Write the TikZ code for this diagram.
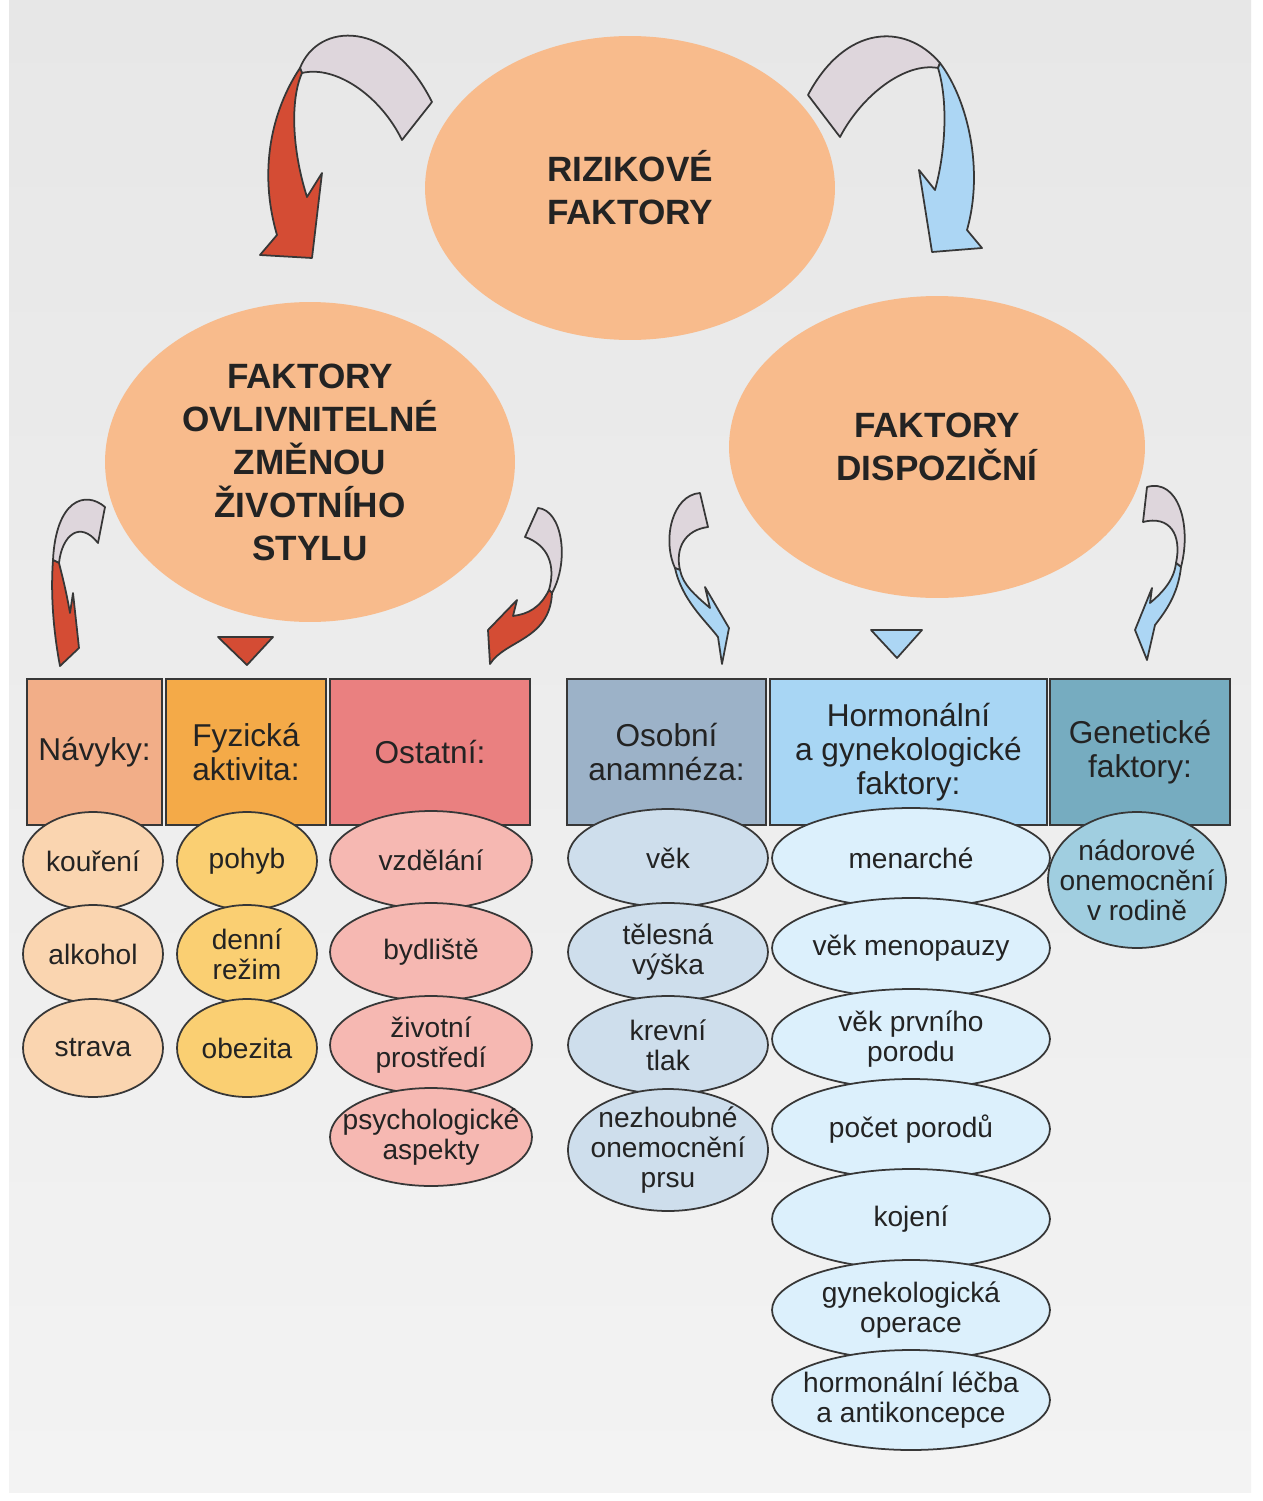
\documentclass[tikz,border=0pt]{standalone}
\usepackage{fontspec}
\setmainfont{Liberation Sans}
\usepackage{tikz}
\usetikzlibrary{shapes.geometric, positioning}
\definecolor{papertop}{RGB}{231, 231, 231}
\definecolor{paperbot}{RGB}{243, 243, 243}
\definecolor{blobpeach}{RGB}{248, 187, 140}
\definecolor{inkline}{RGB}{55, 55, 55}
\definecolor{inktext}{RGB}{35, 35, 35}
\definecolor{ribbongrey}{RGB}{222, 214, 220}
\definecolor{arrowred}{RGB}{212, 76, 52}
\definecolor{arrowblue}{RGB}{172, 214, 244}
\definecolor{habitbox}{RGB}{242, 174, 136}
\definecolor{activbox}{RGB}{244, 170, 72}
\definecolor{otherbox}{RGB}{234, 128, 128}
\definecolor{personbox}{RGB}{156, 178, 200}
\definecolor{hormonbox}{RGB}{168, 214, 244}
\definecolor{genebox}{RGB}{118, 172, 192}
\definecolor{habitfill}{RGB}{250, 213, 176}
\definecolor{activfill}{RGB}{250, 207, 114}
\definecolor{otherfill}{RGB}{246, 184, 178}
\definecolor{personfill}{RGB}{206, 222, 236}
\definecolor{hormonfill}{RGB}{220, 240, 252}
\definecolor{genefill}{RGB}{160, 206, 224}

\begin{document}
\begin{tikzpicture}[x=0.02cm, y=-0.02cm,
    blob/.style={ellipse, fill=blobpeach, inner sep=-10pt, align=center, text=inktext,
      font=\bfseries\fontsize{20}{24.5}\selectfont},
    headbox/.style={rectangle, draw=inkline, line width=1.1pt, inner sep=0pt, align=center,
      text=inktext, minimum height=2.92cm, font=\fontsize{18}{19.5}\selectfont},
    item/.style={ellipse, draw=inkline, line width=1pt, inner xsep=-20pt, inner ysep=-10pt,
      align=center, text=inktext, font=\fontsize{16}{17}\selectfont},
    habit/.style={item, fill=habitfill, minimum width=2.8cm, minimum height=1.96cm},
    activ/.style={item, fill=activfill, minimum width=2.8cm, minimum height=1.96cm},
    other/.style={item, fill=otherfill, minimum width=4.04cm, minimum height=1.96cm},
    person/.style={item, fill=personfill, minimum width=4cm, minimum height=1.96cm},
    hormon/.style={item, fill=hormonfill, minimum width=5.56cm, minimum height=2cm},
    gene/.style={item, fill=genefill, minimum width=3.56cm, minimum height=2.72cm},
    ribbon/.style={draw=inkline, line width=1pt, fill=ribbongrey, line join=round},
    redtip/.style={draw=inkline, line width=1pt, fill=arrowred, line join=round},
    bluetip/.style={draw=inkline, line width=1pt, fill=arrowblue, line join=round}]

  \useasboundingbox (0,0) rectangle (1262,1501);
  \fill[white] (0,0) rectangle (1262,1501);
  \shade[top color=papertop, bottom color=paperbot] (9,0) rectangle (1251,1492);

  \node[blob, minimum width=8.2cm, minimum height=6.08cm] (risk) at (630,188)
    {RIZIKOVÉ\\FAKTORY};
  \node[blob, minimum width=8.2cm, minimum height=6.4cm] (lifestyle) at (310,462)
    {FAKTORY\\OVLIVNITELNÉ\\ZMĚNOU\\ŽIVOTNÍHO\\STYLU};
  \node[blob, minimum width=8.32cm, minimum height=6.04cm] (disposition) at (937,447)
    {FAKTORY\\DISPOZIČNÍ};

  \draw[ribbon] (300,68) .. controls (318,22) and (390,18) .. (432,102) -- (402,140)
    .. controls (380,95) and (335,65) .. (302,73) -- cycle;
  \draw[redtip] (300,68) .. controls (272,110) and (258,170) .. (277,235) -- (260,255)
    -- (312,258) -- (322,173) -- (307,197) .. controls (292,150) and (290,100) .. (302,73) -- cycle;

  \draw[ribbon] (940,63) .. controls (905,22) and (845,25) .. (808,95) -- (840,137)
    .. controls (862,95) and (905,62) .. (938,68) -- cycle;
  \draw[bluetip] (940,63) .. controls (968,100) and (984,170) .. (967,230) -- (982,248)
    -- (932,252) -- (919,170) -- (935,190) .. controls (946,150) and (948,100) .. (938,68) -- cycle;

  \draw[ribbon] (105,507) .. controls (85,490) and (56,500) .. (53,560) -- (59,563)
    .. controls (62,535) and (80,520) .. (98,543) -- cycle;
  \draw[redtip] (53,560) .. controls (50,600) and (55,640) .. (60,666) -- (79,648)
    -- (73,593) -- (70,613) .. controls (66,590) and (62,575) .. (59,563) -- cycle;
  \draw[redtip] (218,637) -- (273,637) -- (247,665) -- cycle;
  \draw[ribbon] (538,508) .. controls (562,510) and (570,560) .. (552,593) -- (549,590)
    .. controls (556,565) and (548,545) .. (525,537) -- cycle;
  \draw[redtip] (549,590) .. controls (540,608) and (528,614) .. (513,616) -- (517,600)
    -- (488,630) -- (490,664) .. controls (505,640) and (550,640) .. (552,593) -- cycle;

  \draw[ribbon] (700,493) .. controls (672,495) and (662,540) .. (675,568) -- (680,570)
    .. controls (675,548) and (685,530) .. (708,527) -- cycle;
  \draw[bluetip] (675,568) .. controls (682,600) and (705,620) .. (718,637) -- (722,664)
    -- (729,628) -- (705,587) -- (710,608) .. controls (695,595) and (683,585) .. (680,570) -- cycle;
  \draw[bluetip] (871,630) -- (922,630) -- (897,658) -- cycle;
  \draw[ribbon] (1147,487) .. controls (1178,478) and (1192,525) .. (1181,567) -- (1176,563)
    .. controls (1182,535) and (1170,515) .. (1143,522) -- cycle;
  \draw[bluetip] (1181,567) .. controls (1178,595) and (1165,612) .. (1155,625) -- (1147,660)
    -- (1135,630) -- (1152,588) -- (1150,603) .. controls (1163,592) and (1174,580) .. (1176,563) -- cycle;

  \node[headbox, fill=habitbox, minimum width=2.7cm] (hHabits) at (94.5,752) {Návyky:};
  \node[headbox, fill=activbox, minimum width=3.2cm] (hActivity) at (246,752) {Fyzická\\aktivita:};
  \node[headbox, fill=otherbox, minimum width=4cm] (hOther) at (430,752) {Ostatní:};
  \node[headbox, fill=personbox, minimum width=3.98cm] (hPersonal) at (666.5,752) {Osobní\\anamnéza:};
  \node[headbox, fill=hormonbox, minimum width=5.54cm] (hHormonal) at (908.5,752)
    {Hormonální\\a gynekologické\\faktory:};
  \node[headbox, fill=genebox, minimum width=3.6cm] (hGenetic) at (1140,752) {Genetické\\faktory:};

  \node[habit] (smoking) at (93,861) {kouření};
  \node[habit] (alcohol) at (93,954) {alkohol};
  \node[habit] (diet) at (93,1048) {strava};

  \node[activ] (movement) at (247,861) {pohyb};
  \node[activ] (routine) at (247,954) {denní\\režim};
  \node[activ] (obesity) at (247,1048) {obezita};

  \node[other] (education) at (431,860) {vzdělání};
  \node[other] (residence) at (431,952) {bydliště};
  \node[other] (environment) at (431,1045) {životní\\prostředí};
  \node[other] (psychology) at (431,1137) {psychologické\\aspekty};

  \node[person] (age) at (668,858) {věk};
  \node[person] (height) at (668,952) {tělesná\\výška};
  \node[person] (pressure) at (668,1045) {krevní\\tlak};
  \node[person, minimum height=2.44cm] (benign) at (668,1150) {nezhoubné\\onemocnění\\prsu};

  \node[hormon] (menarche) at (911,858) {menarché};
  \node[hormon] (menopause) at (911,948) {věk menopauzy};
  \node[hormon] (firstbirth) at (911,1039) {věk prvního\\porodu};
  \node[hormon] (births) at (911,1129) {počet porodů};
  \node[hormon] (nursing) at (911,1219) {kojení};
  \node[hormon] (surgery) at (911,1310) {gynekologická\\operace};
  \node[hormon] (therapy) at (911,1400) {hormonální léčba\\a antikoncepce};

  \node[gene] (family) at (1137,880) {nádorové\\onemocnění\\v rodině};
\end{tikzpicture}
\end{document}
